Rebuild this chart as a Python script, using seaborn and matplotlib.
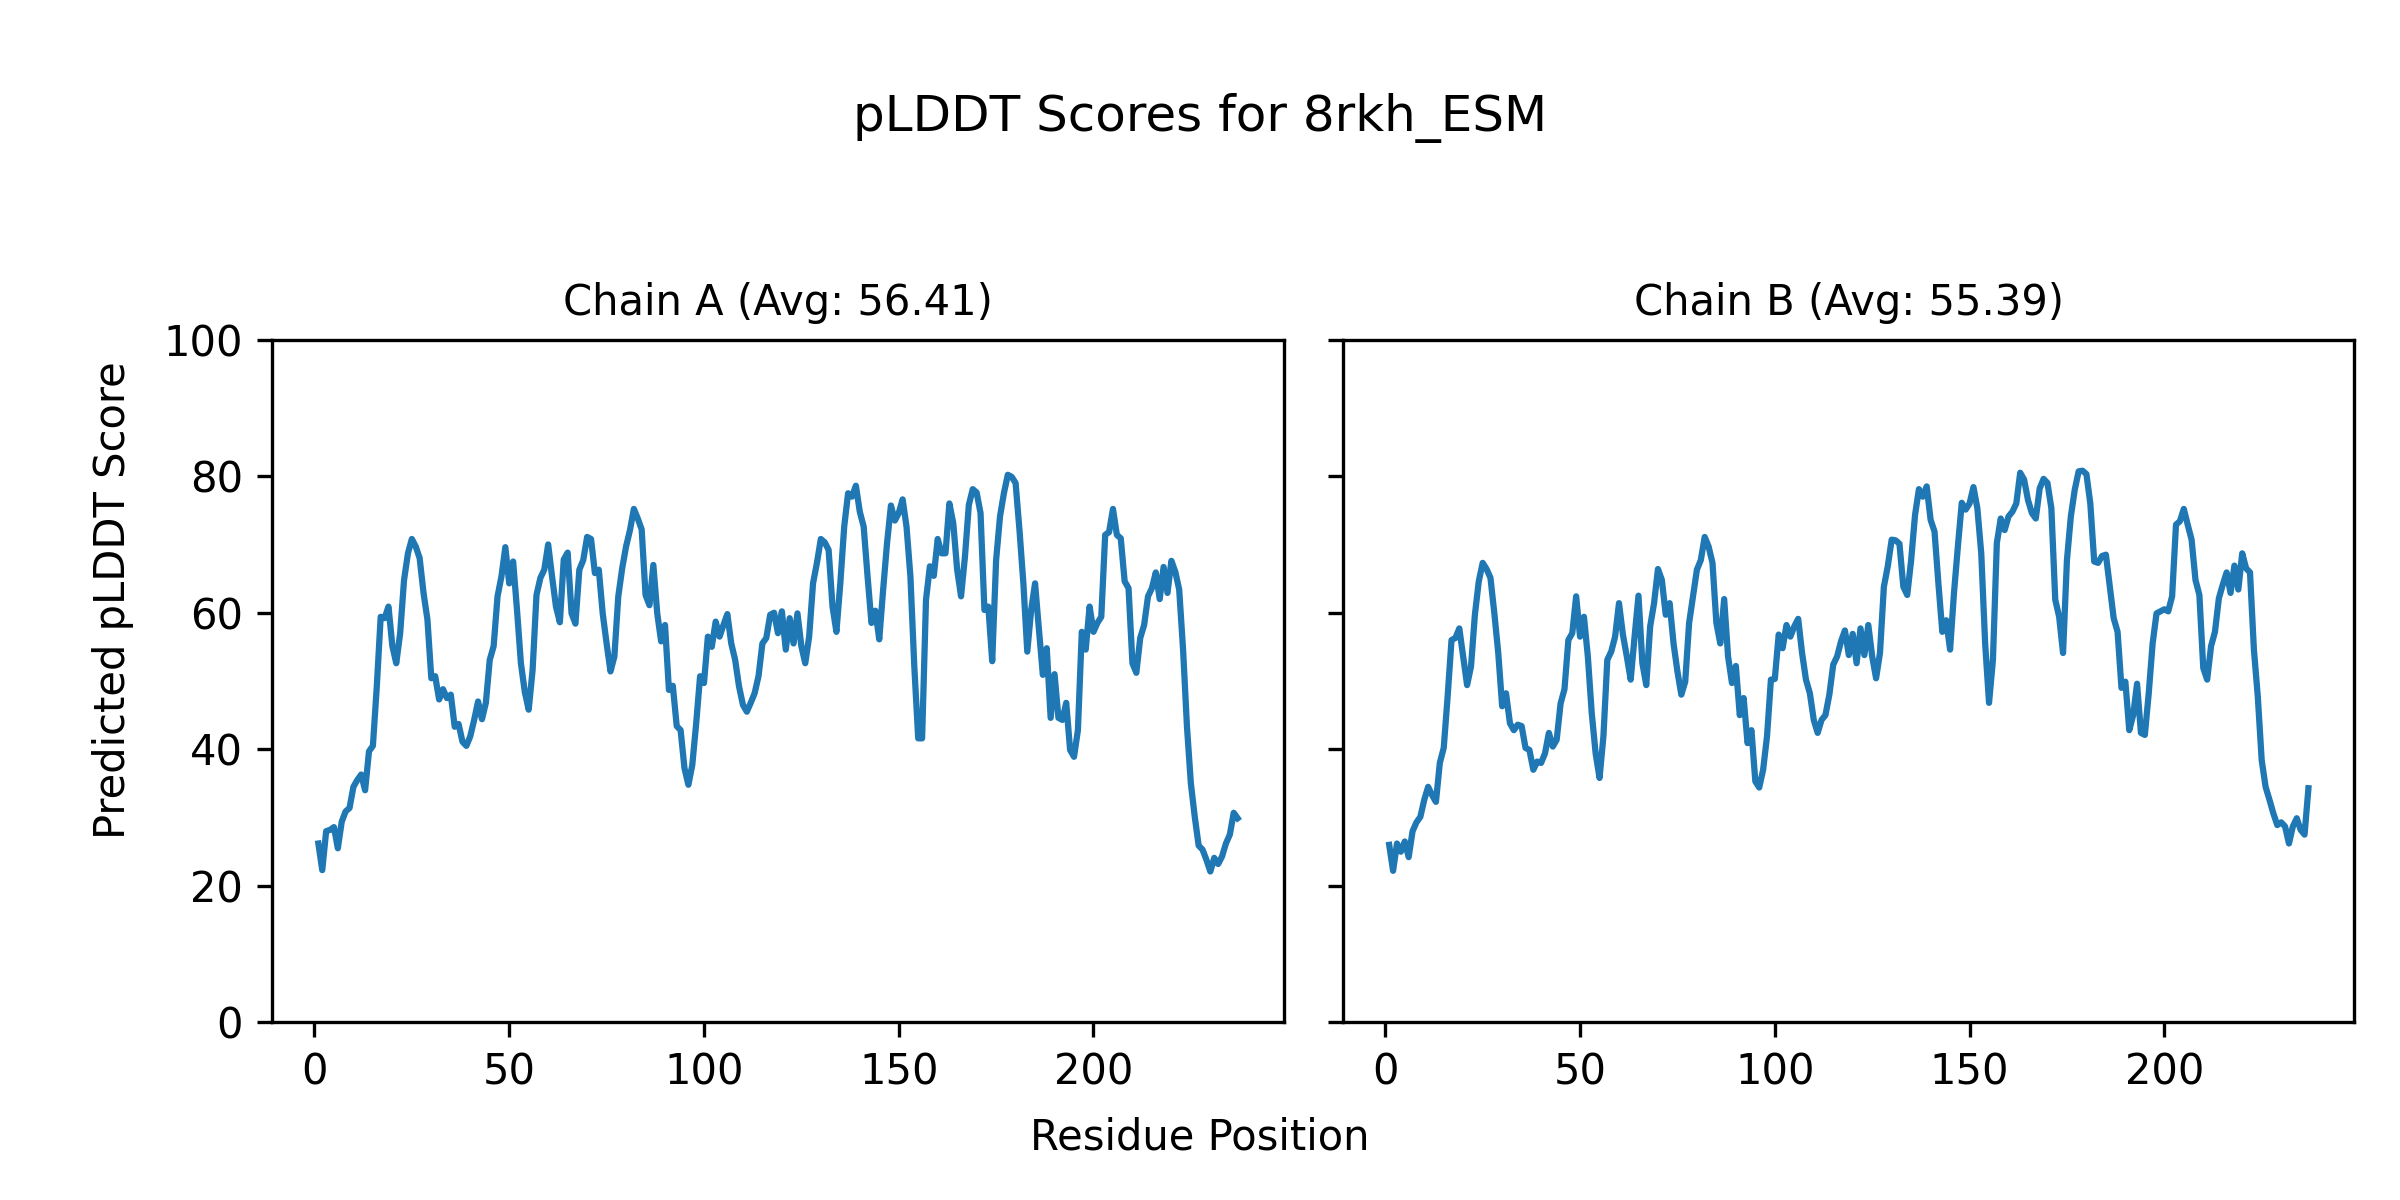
import matplotlib
matplotlib.use("Agg")
import matplotlib.pyplot as plt
import seaborn as sns
import pandas as pd
import numpy as np

chain_a = [26.2, 22.3, 28.0, 28.2, 28.6, 25.5, 29.4, 30.9, 31.4, 34.5,
           35.5, 36.3, 34.0, 39.7, 40.5, 49.2, 59.4, 59.2, 60.9, 55.1,
           52.6, 57.0, 64.8, 68.7, 70.8, 69.7, 68.0, 62.9, 59.0, 50.4,
           50.7, 47.3, 48.8, 47.5, 48.0, 43.3, 43.7, 41.1, 40.5, 41.9,
           44.3, 47.0, 44.4, 46.8, 53.1, 55.1, 62.4, 65.3, 69.6, 64.3,
           67.5, 60.4, 52.6, 48.4, 45.8, 51.6, 62.6, 65.1, 66.3, 70.0,
           65.3, 60.9, 58.6, 67.8, 68.8, 59.9, 58.4, 66.3, 67.7, 71.1,
           70.8, 65.8, 66.3, 59.9, 55.5, 51.4, 53.6, 62.4, 66.5, 69.7,
           72.1, 75.2, 73.8, 72.2, 62.6, 61.1, 67.0, 59.9, 55.8, 58.2,
           48.7, 49.3, 43.4, 42.8, 37.2, 34.8, 37.7, 43.8, 50.7, 49.7,
           56.5, 55.0, 58.7, 56.5, 58.2, 59.8, 55.5, 53.1, 49.2, 46.5,
           45.5, 46.8, 48.2, 50.7, 55.5, 56.3, 59.7, 60.0, 57.0, 60.2,
           54.6, 59.2, 55.5, 59.9, 55.1, 52.6, 56.5, 64.3, 67.3, 70.8,
           70.3, 69.2, 60.9, 57.2, 64.3, 72.6, 77.5, 77.0, 78.6, 74.8,
           72.6, 65.3, 58.5, 60.3, 56.1, 63.4, 70.2, 75.7, 73.5, 74.6,
           76.6, 72.6, 65.3, 52.1, 41.6, 41.6, 61.9, 66.8, 65.4, 70.8,
           68.7, 68.7, 76.0, 73.1, 66.3, 62.4, 68.2, 75.8, 78.1, 77.6,
           74.6, 60.4, 60.9, 52.9, 67.7, 74.1, 77.5, 80.2, 79.9, 79.0,
           72.1, 64.3, 54.3, 60.4, 64.3, 57.5, 50.9, 54.8, 44.6, 51.0,
           44.6, 44.3, 46.8, 39.9, 38.9, 42.8, 57.2, 54.6, 60.9, 57.2,
           58.5, 59.4, 71.4, 71.8, 75.2, 71.4, 70.9, 64.6, 63.6, 52.6,
           51.2, 56.3, 58.2, 62.4, 63.6, 65.9, 62.0, 66.7, 62.9, 67.6,
           66.0, 63.4, 54.6, 43.3, 35.0, 30.1, 25.9, 25.3, 23.8, 22.1,
           24.1, 23.2, 24.3, 26.2, 27.5, 30.7, 29.9]

chain_b = [26.0, 22.2, 26.2, 25.0, 26.5, 24.2, 28.0, 29.3, 30.1, 32.6,
           34.5, 33.3, 32.3, 38.0, 40.2, 47.7, 56.0, 56.3, 57.7, 53.6,
           49.4, 52.1, 59.7, 64.6, 67.3, 66.4, 65.1, 59.9, 54.1, 46.3,
           48.2, 43.8, 42.8, 43.6, 43.4, 40.2, 39.9, 37.0, 38.2, 38.0,
           39.4, 42.4, 40.4, 41.4, 46.7, 48.8, 56.0, 57.0, 62.4, 56.5,
           59.4, 53.6, 45.3, 39.4, 35.8, 41.9, 53.1, 54.3, 56.5, 61.4,
           56.8, 53.6, 50.2, 56.5, 62.5, 52.6, 49.4, 58.0, 61.4, 66.4,
           64.8, 59.7, 61.4, 55.5, 51.4, 48.0, 49.9, 58.5, 62.4, 66.3,
           67.7, 71.1, 69.7, 67.3, 58.5, 55.5, 62.0, 53.6, 49.7, 52.2,
           45.0, 47.5, 40.9, 42.8, 35.3, 34.4, 37.0, 41.9, 50.2, 50.3,
           56.8, 54.8, 58.2, 56.5, 58.0, 59.1, 54.1, 50.2, 48.2, 44.3,
           42.4, 44.3, 45.0, 48.0, 52.4, 53.6, 55.8, 57.4, 53.8, 56.9,
           52.6, 57.7, 53.8, 58.2, 53.6, 50.4, 54.1, 63.8, 66.8, 70.7,
           70.6, 70.1, 63.8, 62.6, 67.7, 74.3, 78.1, 77.0, 78.5, 73.6,
           71.9, 64.3, 57.2, 58.9, 54.6, 62.9, 69.7, 76.1, 75.1, 76.0,
           78.4, 75.3, 68.7, 55.5, 46.8, 53.1, 70.2, 73.8, 72.1, 74.1,
           74.8, 76.0, 80.5, 79.5, 76.5, 74.6, 73.8, 78.2, 79.6, 79.0,
           75.3, 61.9, 59.4, 54.1, 67.7, 74.1, 78.0, 80.7, 80.8, 80.3,
           76.0, 67.5, 67.3, 68.3, 68.5, 63.8, 59.2, 57.2, 49.0, 49.9,
           42.8, 45.0, 49.6, 42.4, 42.1, 48.2, 55.5, 59.9, 60.2, 60.5,
           60.2, 62.4, 72.9, 73.4, 75.2, 72.9, 70.7, 64.8, 62.6, 51.9,
           50.2, 55.1, 57.2, 62.1, 64.1, 65.9, 62.9, 66.9, 63.4, 68.7,
           66.5, 65.9, 54.6, 47.7, 38.4, 34.5, 32.6, 30.6, 28.9, 29.3,
           28.7, 26.2, 28.7, 29.9, 28.2, 27.5, 34.3]

chain_names = ["A", "B"]
chain_avgs = ["56.41", "55.39"]
title_text = "pLDDT Scores for 8rkh_ESM"
x_label = "Residue Position"
y_label = "Predicted pLDDT Score"

series = [chain_a, chain_b]

fig, axes = plt.subplots(1, 2, figsize=(8, 4), dpi=300, sharey=True)
fig.subplots_adjust(left=0.1135, right=0.981, bottom=0.148, top=0.717, wspace=0.059)

for ax, name, avg, vals in zip(axes, chain_names, chain_avgs, series):
    df = pd.DataFrame({"Residue": np.arange(1, len(vals) + 1), "pLDDT": vals})
    sns.lineplot(data=df, x="Residue", y="pLDDT", ax=ax, color="#1f77b4", linewidth=1.5)
    ax.set_title(f"Chain {name} (Avg: {avg})", fontsize=10)
    ax.set_xlabel("")
    ax.set_ylabel("")
    ax.set_ylim(0, 100)
    ax.set_xticks([0, 50, 100, 150, 200])
    ax.tick_params(labelsize=10)

fig.text(0.5, 0.902, title_text, ha="center", va="center", fontsize=12)
fig.text(0.5, 0.052, x_label, ha="center", va="center", fontsize=10)
fig.text(0.047, 0.5, y_label, ha="center", va="center", rotation=90, fontsize=10)

fig.savefig("out.png", dpi=300)
